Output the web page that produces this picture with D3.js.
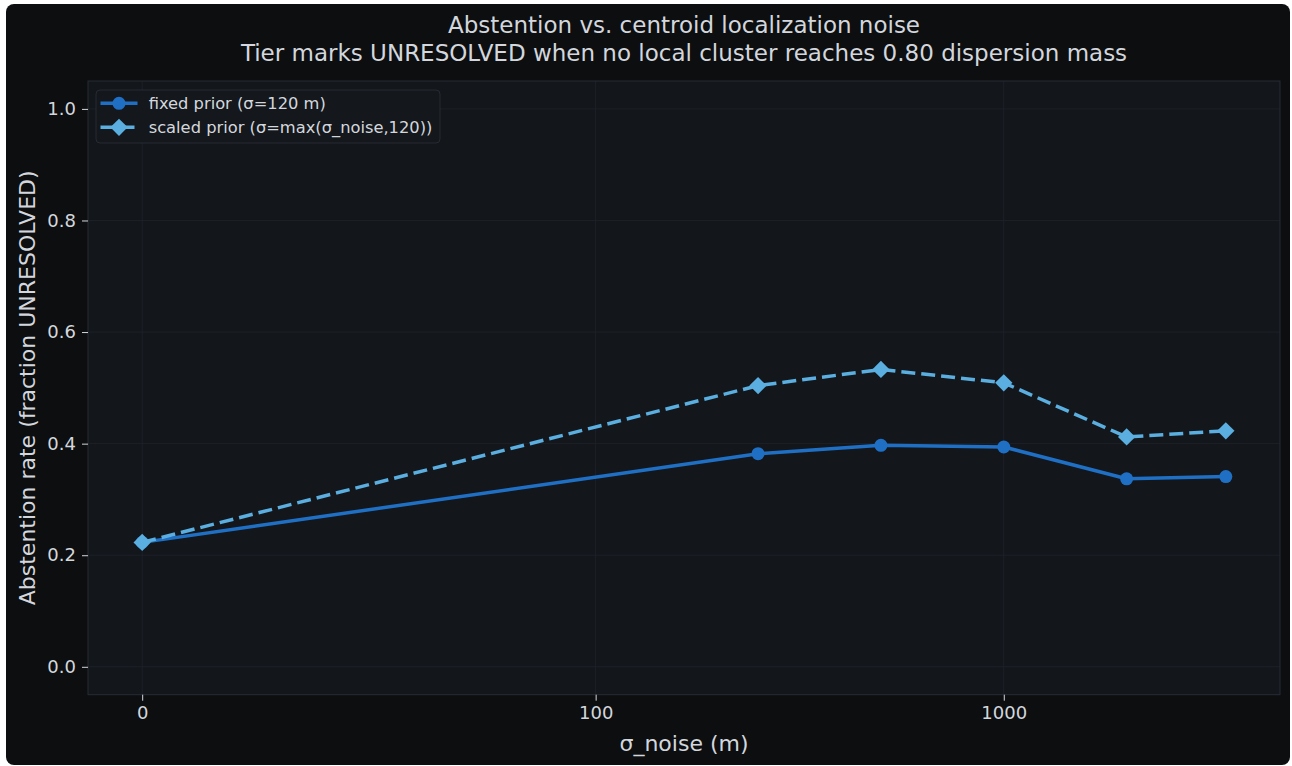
<!DOCTYPE html>
<html>
<head>
<meta charset="utf-8">
<script src="https://cdn.jsdelivr.net/npm/d3@7/dist/d3.min.js"></script>
<style>
  html, body { margin: 0; padding: 0; background: #ffffff; }
  svg { display: block; }
  text { font-family: "DejaVu Sans", sans-serif; }
</style>
</head>
<body>
<div id="chart"></div>
<script>
// data
const sigmaNoise = [0, 250, 500, 1000, 2000, 3500];
const fixedPrior = [0.223, 0.382, 0.397, 0.394, 0.337, 0.341];
const scaledPrior = [0.223, 0.504, 0.533, 0.509, 0.412, 0.423];
const xTicks = [0, 100, 1000];
const xTickLabels = ['0', '100', '1000'];
const yTicks = [0, 0.2, 0.4, 0.6, 0.8, 1.0];
const seriesNames = ['fixed prior (σ=120 m)', 'scaled prior (σ=max(σ_noise,120))'];
const titleLines = [
  'Abstention vs. centroid localization noise',
  'Tier marks UNRESOLVED when no local cluster reaches 0.80 dispersion mass'
];

const W = 1292, H = 766;
const margin = { top: 81, left: 88, right: 12, bottom: 71.3 };
const width = W - margin.left - margin.right;
const height = H - margin.top - margin.bottom;

const textColor = '#d3d7dd';
const fixedColor = '#1f70c4';
const scaledColor = '#5aaee0';

// matplotlib-style symlog, linthresh 100, base 10, linscale 1
const linthresh = 100;
const linscaleAdj = 1 / (1 - 1 / 10);
function symlog(v) {
  const a = Math.abs(v);
  if (a <= linthresh) return v * linscaleAdj / linthresh;
  return Math.sign(v) * (linscaleAdj + Math.log10(a / linthresh));
}

const svg = d3.select('#chart').append('svg')
  .attr('width', W)
  .attr('height', H);

// dark card
svg.append('rect')
  .attr('x', 6).attr('y', 4)
  .attr('width', 1284).attr('height', 761)
  .attr('rx', 8)
  .attr('fill', '#0d0e10');

const tMin = symlog(d3.min(sigmaNoise)), tMax = symlog(d3.max(sigmaNoise));
const span = tMax - tMin;
const x = d3.scaleLinear()
  .domain([tMin - 0.05 * span, tMax + 0.05 * span])
  .range([0, width]);
const y = d3.scaleLinear()
  .domain([-0.05, 1.05])
  .range([height, 0]);

const g = svg.append('g')
  .attr('transform', `translate(${margin.left}, ${margin.top})`);

// plot background
g.append('rect')
  .attr('width', width).attr('height', height)
  .attr('fill', '#13161b');

// grid
g.append('g').selectAll('line').data(yTicks).join('line')
  .attr('x1', 0).attr('x2', width)
  .attr('y1', d => y(d)).attr('y2', d => y(d))
  .attr('stroke', '#1d2128').attr('stroke-width', 1);
g.append('g').selectAll('line').data(xTicks).join('line')
  .attr('x1', d => x(symlog(d))).attr('x2', d => x(symlog(d)))
  .attr('y1', 0).attr('y2', height)
  .attr('stroke', '#1d2128').attr('stroke-width', 1);

// frame
g.append('rect')
  .attr('width', width).attr('height', height)
  .attr('fill', 'none')
  .attr('stroke', '#272c35').attr('stroke-width', 1);

// axes
const xAxis = g.append('g')
  .attr('transform', `translate(0, ${height})`)
  .call(d3.axisBottom(x)
    .tickValues(xTicks.map(symlog))
    .tickFormat((d, i) => xTickLabels[i])
    .tickSize(6).tickPadding(6));
const yAxis = g.append('g')
  .call(d3.axisLeft(y)
    .tickValues(yTicks)
    .tickFormat(d3.format('.1f'))
    .tickSize(6).tickPadding(6));
[xAxis, yAxis].forEach(a => {
  a.select('.domain').remove();
  a.selectAll('.tick line').attr('stroke', textColor).attr('stroke-width', 1);
  a.selectAll('.tick text')
    .attr('fill', textColor)
    .style('font-size', '18px')
    .style('font-family', '"DejaVu Sans", sans-serif');
});

// lines
const pts = vals => sigmaNoise.map((s, i) => [s, vals[i]]);
const line = d3.line()
  .x(d => x(symlog(d[0])))
  .y(d => y(d[1]));

const diamond = d3.symbol(d3.symbolSquare, 150);

g.append('path')
  .datum(pts(fixedPrior))
  .attr('d', line)
  .attr('fill', 'none')
  .attr('stroke', fixedColor)
  .attr('stroke-width', 3.5)
  .attr('stroke-linejoin', 'round');
g.append('g').selectAll('circle').data(pts(fixedPrior)).join('circle')
  .attr('cx', d => x(symlog(d[0])))
  .attr('cy', d => y(d[1]))
  .attr('r', 6.5)
  .attr('fill', fixedColor);

g.append('path')
  .datum(pts(scaledPrior))
  .attr('d', line)
  .attr('fill', 'none')
  .attr('stroke', scaledColor)
  .attr('stroke-width', 3.5)
  .attr('stroke-dasharray', '14,6');
g.append('g').selectAll('path').data(pts(scaledPrior)).join('path')
  .attr('d', diamond)
  .attr('transform', d => `translate(${x(symlog(d[0]))}, ${y(d[1])}) rotate(45)`)
  .attr('fill', scaledColor);

// legend
const legend = svg.append('g').attr('transform', 'translate(96, 90)');
legend.append('rect')
  .attr('width', 344).attr('height', 53)
  .attr('rx', 4)
  .attr('fill', '#14171c')
  .attr('stroke', '#262b33');
const legendRows = [
  { name: seriesNames[0], color: fixedColor, dash: null, marker: 'circle' },
  { name: seriesNames[1], color: scaledColor, dash: '14,6', marker: 'diamond' }
];
legendRows.forEach((r, i) => {
  const row = legend.append('g').attr('transform', `translate(0, ${13.3 + i * 24})`);
  row.append('line')
    .attr('x1', 4.5).attr('x2', 41.5)
    .attr('stroke', r.color).attr('stroke-width', 3.5)
    .attr('stroke-dasharray', r.dash);
  if (r.marker === 'circle') {
    row.append('circle').attr('cx', 23).attr('r', 6.5).attr('fill', r.color);
  } else {
    row.append('path').attr('d', diamond)
      .attr('transform', 'translate(23, 0) rotate(45)')
      .attr('fill', r.color);
  }
  row.append('text')
    .attr('x', 52.7).attr('dy', '0.35em')
    .attr('fill', textColor)
    .style('font-size', '16.3px')
    .text(r.name);
});

// two-line title
titleLines.forEach((t, i) => {
  svg.append('text')
    .attr('x', margin.left + width / 2)
    .attr('y', 33 + i * 27.5)
    .attr('text-anchor', 'middle')
    .attr('fill', textColor)
    .style('font-size', '23px')
    .text(t);
});

svg.append('text')
  .attr('x', margin.left + width / 2).attr('y', 750.5)
  .attr('text-anchor', 'middle')
  .attr('fill', textColor)
  .style('font-size', '22px')
  .text('σ_noise (m)');
svg.append('text')
  .attr('transform', `translate(35, ${margin.top + height / 2}) rotate(-90)`)
  .attr('text-anchor', 'middle')
  .attr('fill', textColor)
  .style('font-size', '22px')
  .text('Abstention rate (fraction UNRESOLVED)');
</script>
</body>
</html>
